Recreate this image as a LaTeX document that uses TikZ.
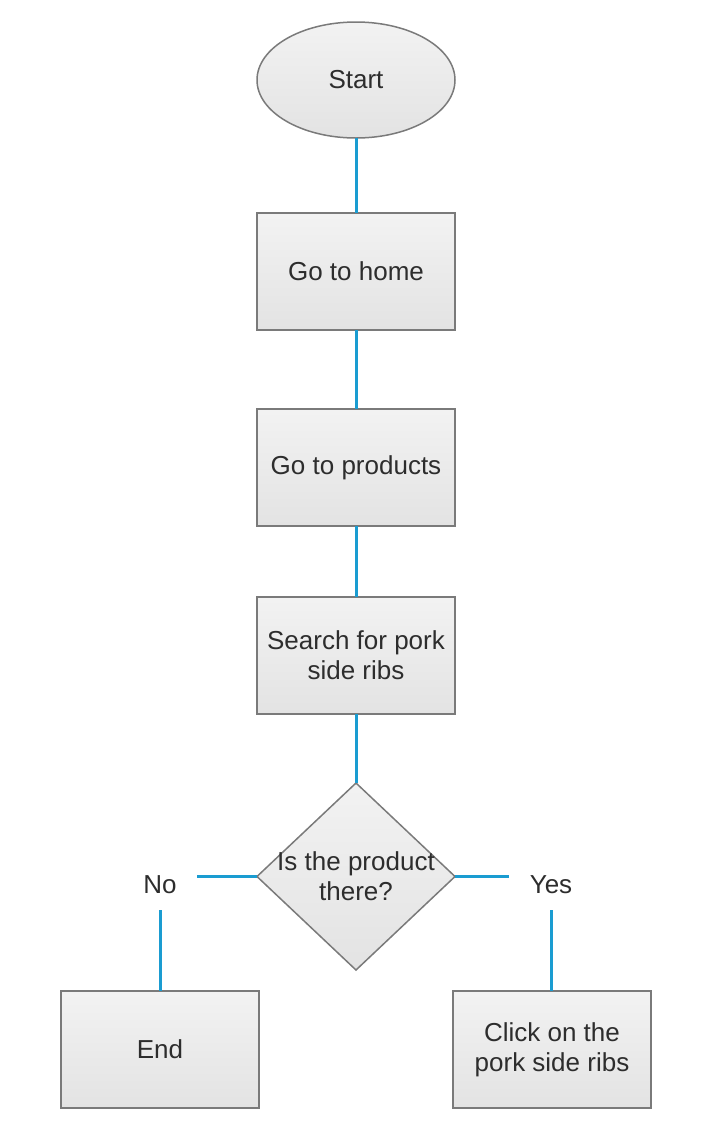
\documentclass[tikz,border=0pt]{standalone}
\usepackage{fontspec}
\setmainfont{Liberation Sans}
\usepackage{tikz}
\usetikzlibrary{positioning}
\usetikzlibrary{shapes.geometric}
\definecolor{flowblue}{RGB}{26,156,209}
\definecolor{boxgray}{RGB}{122,122,122}
\definecolor{txtgray}{RGB}{45,45,45}
\tikzstyle{boxfill}=[draw=boxgray, line width=0.75pt, top color=black!5,
  bottom color=black!11, text=txtgray, font=\fontsize{13}{15}\selectfont,
  align=center, inner sep=0pt, outer sep=0pt]
\tikzstyle{terminal}=[boxfill, ellipse, minimum width=99pt, minimum height=58pt]
\tikzstyle{process}=[boxfill, rectangle, minimum width=99pt, minimum height=58.5pt]
\tikzstyle{decision}=[boxfill, diamond, minimum width=99pt, minimum height=93.5pt]
\tikzstyle{answer}=[text=txtgray, font=\fontsize{13}{15}\selectfont,
  inner xsep=10pt, inner ysep=8pt]
\tikzstyle{flow}=[line width=1.5pt, draw=flowblue]

\begin{document}
\begin{tikzpicture}[x=0.5pt, y=0.5pt]
\useasboundingbox (0,0) rectangle (716,-1142);

\node[terminal] at (356,-80) (start) {Start};
\node[process, below=37.5pt of start] (gohome) {Go to home};
\node[process, below=39.5pt of gohome] (goproducts) {Go to products};
\node[process, below=35.5pt of goproducts] (search) {Search for pork\\side ribs};
\node[decision, below=34.5pt of search,
  label={[text=txtgray, font=\fontsize{13}{15}\selectfont, align=center]
  center:Is the product\\there?}] (isthere) {};

\node[answer] at (160,-885) (no) {No};
\node[answer] at (551,-885) (yes) {Yes};

\node[process] at (160,-1049.5) (theend) {End};
\node[process] at (552,-1049.5) (clickribs) {Click on the\\pork side ribs};

\draw[flow] (start) -- (gohome);
\draw[flow] (gohome) -- (goproducts);
\draw[flow] (goproducts) -- (search);
\draw[flow] (search) -- (isthere);
\draw[flow] (isthere.west) -- (isthere.west -| no.east);
\draw[flow] (isthere.east) -- (isthere.east -| yes.west);
\draw[flow] (no.south) -- (theend.north);
\draw[flow] (yes.south) -- (yes.south |- clickribs.north);

\end{tikzpicture}
\end{document}
